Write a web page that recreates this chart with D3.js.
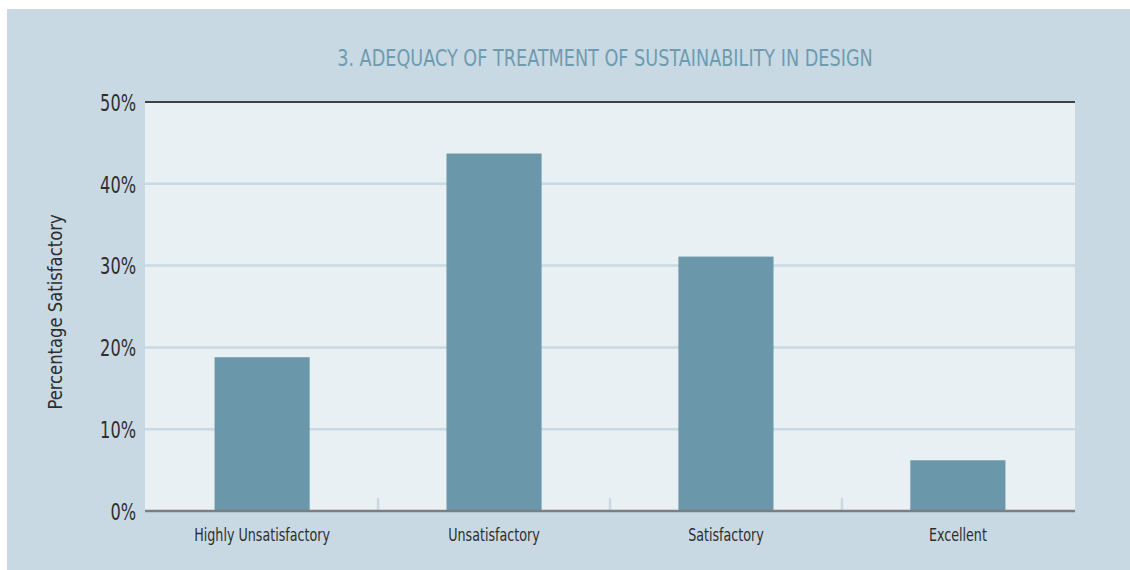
<!DOCTYPE html>
<html>
<head>
<meta charset="utf-8">
<script src="https://cdn.jsdelivr.net/npm/d3@7/dist/d3.min.js"></script>
<style>
  html, body { margin: 0; padding: 0; background: #ffffff; }
  svg { display: block; }
  text { font-family: "DejaVu Sans Condensed", "DejaVu Sans", sans-serif; font-stretch: condensed; }
</style>
</head>
<body>
<svg id="chart" width="1130" height="570"></svg>
<script>
// Survey responses: share of respondents per rating
const categories = ["Highly Unsatisfactory", "Unsatisfactory", "Satisfactory", "Excellent"];
const percentages = [18.8, 43.7, 31.1, 6.2];
const yTicks = [0, 10, 20, 30, 40, 50];
const chartTitle = "3. ADEQUACY OF TREATMENT OF SUSTAINABILITY IN DESIGN";
const yAxisTitle = "Percentage Satisfactory";

const svg = d3.select("#chart");
const W = 1130, H = 570;
const margin = { top: 102, right: 55, bottom: 59, left: 145 };
const innerW = W - margin.left - margin.right;
const innerH = H - margin.top - margin.bottom;

// narrow a text run horizontally by factor k (condensed look)
function condense(sel, k) {
  sel.each(function () {
    const len = this.getComputedTextLength();
    d3.select(this).attr("textLength", len * k).attr("lengthAdjust", "spacingAndGlyphs");
  });
}

// panel background
svg.append("rect").attr("x", 7).attr("y", 9).attr("width", W - 7).attr("height", H - 9)
  .attr("fill", "#c9d9e3");

const x = d3.scaleBand().domain(categories).range([0, innerW]).paddingInner(0.59).paddingOuter(0.3);
const y = d3.scaleLinear().domain([0, 50]).range([innerH, 0]);

const g = svg.append("g").attr("transform", `translate(${margin.left},${margin.top})`);

// plot area
g.append("rect").attr("width", innerW).attr("height", innerH).attr("fill", "#e8f0f4");

// horizontal gridlines
g.selectAll("line.grid").data(yTicks.filter(t => t > 0 && t < 50)).join("line")
  .attr("class", "grid")
  .attr("x1", 0).attr("x2", innerW)
  .attr("y1", d => y(d)).attr("y2", d => y(d))
  .attr("stroke", "#c9d9e3").attr("stroke-width", 2.5);

// separators between categories
const bandStep = x.step();
g.selectAll("line.sep").data(categories.slice(1)).join("line")
  .attr("class", "sep")
  .attr("x1", d => x(d) - x.paddingInner() * bandStep / 2)
  .attr("x2", d => x(d) - x.paddingInner() * bandStep / 2)
  .attr("y1", innerH - 13).attr("y2", innerH)
  .attr("stroke", "#c9d9e3").attr("stroke-width", 2.5);

// bars
g.selectAll("rect.bar").data(percentages).join("rect")
  .attr("class", "bar")
  .attr("x", (d, i) => x(categories[i]))
  .attr("width", x.bandwidth())
  .attr("y", d => y(d))
  .attr("height", d => innerH - y(d))
  .attr("fill", "#6a97aa");

// top border and baseline
g.append("line").attr("x1", 0).attr("x2", innerW).attr("y1", y(50)).attr("y2", y(50))
  .attr("stroke", "#3f4244").attr("stroke-width", 2);
g.append("line").attr("x1", 0).attr("x2", innerW).attr("y1", y(0)).attr("y2", y(0))
  .attr("stroke", "#7b7f82").attr("stroke-width", 2.5);

// y axis labels
const yAxis = d3.axisLeft(y).tickValues(yTicks).tickFormat(d => d + "%").tickSize(0).tickPadding(9);
const yg = g.append("g").call(yAxis);
yg.select(".domain").remove();
yg.selectAll("text").attr("font-size", 23).attr("fill", "#2e2e2e").attr("dy", "0.36em")
  .call(condense, 0.78);

// x axis labels
const xAxis = d3.axisBottom(x).tickSize(0).tickPadding(18);
const xg = g.append("g").attr("transform", `translate(0,${innerH})`).call(xAxis);
xg.select(".domain").remove();
xg.selectAll("text").attr("font-size", 17).attr("fill", "#2e2e2e").attr("dy", "0.71em")
  .call(condense, 0.83);

// title
svg.append("text")
  .attr("x", 605).attr("y", 66)
  .attr("text-anchor", "middle")
  .attr("font-size", 23)
  .attr("fill", "#6d9cb1")
  .text(chartTitle)
  .call(condense, 0.853);

// y axis title
svg.append("text")
  .attr("transform", `translate(62,312) rotate(-90)`)
  .attr("text-anchor", "middle")
  .attr("font-size", 19)
  .attr("fill", "#2e2e2e")
  .text(yAxisTitle)
  .call(condense, 0.96);
</script>
</body>
</html>
